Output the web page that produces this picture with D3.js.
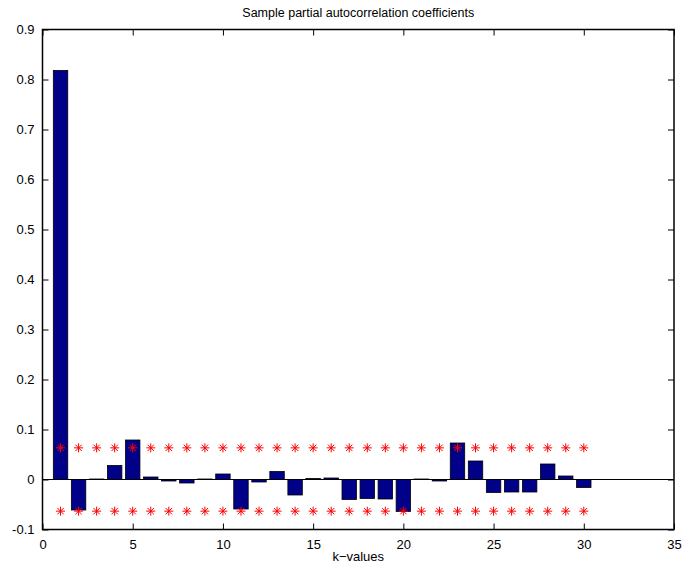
<!DOCTYPE html>
<html>
<head>
<meta charset="utf-8">
<script src="https://cdn.jsdelivr.net/npm/d3@7"></script>
<style>
  html, body { margin: 0; padding: 0; background: #fff; }
  svg { display: block; }
  text { font-family: "Liberation Sans", Arial, Helvetica, sans-serif; fill: #000; }
</style>
</head>
<body>
<svg id="chart" width="684" height="568"></svg>
<script>
// Lags and sample partial autocorrelation values
const lags = d3.range(1, 31);
const pacf = [
  0.818, -0.061, 0.001, 0.028, 0.079, 0.005, -0.003, -0.007, 0.001, 0.011,
  -0.059, -0.005, 0.016, -0.031, 0.002, 0.003, -0.040, -0.038, -0.039, -0.064,
  0.001, -0.003, 0.073, 0.037, -0.026, -0.025, -0.025, 0.031, 0.007, -0.016
];
// Approximate 95% confidence bounds (±2/sqrt(N))
const bound = 0.0633;
const xTicks = [0, 5, 10, 15, 20, 25, 30, 35];
const yTicks = [-0.1, 0, 0.1, 0.2, 0.3, 0.4, 0.5, 0.6, 0.7, 0.8, 0.9];
const titleText = "Sample partial autocorrelation coefficients";
const xLabelText = "k\u2212values";

const svg = d3.select("#chart");
const plotL = 42.5, plotR = 674, plotT = 29.5, plotB = 529.5;

const x = d3.scaleLinear().domain([0, 35]).range([plotL, plotR]);
const y = d3.scaleLinear().domain([-0.1, 0.9]).range([plotB, plotT]);

// Bars
const barW = 0.8;
svg.append("g").selectAll("rect")
  .data(lags)
  .join("rect")
  .attr("x", (d) => x(d - barW / 2))
  .attr("width", (d) => x(d + barW / 2) - x(d - barW / 2))
  .attr("y", (d, i) => y(Math.max(0, pacf[i])))
  .attr("height", (d, i) => Math.abs(y(pacf[i]) - y(0)))
  .attr("fill", "#000088")
  .attr("stroke", "#000")
  .attr("stroke-width", 0.8);

// Zero line
svg.append("line")
  .attr("x1", plotL).attr("x2", plotR)
  .attr("y1", y(0)).attr("y2", y(0))
  .attr("stroke", "#000").attr("stroke-width", 1);

// Confidence bound markers (asterisks)
const star = (s) => {
  const r = s / 2, q = r * 0.707;
  return `M${-r},0L${r},0M0,${-r}L0,${r}M${-q},${-q}L${q},${q}M${-q},${q}L${q},${-q}`;
};
const markers = [];
lags.forEach((k) => { markers.push([k, bound]); markers.push([k, -bound]); });
svg.append("g").selectAll("path")
  .data(markers)
  .join("path")
  .attr("transform", (d) => `translate(${x(d[0])},${y(d[1])})`)
  .attr("d", star(9))
  .attr("stroke", "#ff0000")
  .attr("stroke-width", 1)
  .attr("fill", "none");

// Axes box with inward ticks
const tickLen = 6;
const axisG = svg.append("g");
axisG.append("rect")
  .attr("x", plotL).attr("y", plotT)
  .attr("width", plotR - plotL).attr("height", plotB - plotT)
  .attr("fill", "none").attr("stroke", "#000").attr("stroke-width", 1.5);

const xAxisB = d3.axisBottom(x).tickValues(xTicks).tickSizeInner(-tickLen).tickSizeOuter(0).tickPadding(10).tickFormat(d3.format("d"));
const xAxisT = d3.axisTop(x).tickValues(xTicks).tickSizeInner(-tickLen).tickSizeOuter(0).tickFormat("");
const yAxisL = d3.axisLeft(y).tickValues(yTicks).tickSizeInner(-tickLen).tickSizeOuter(0).tickPadding(8)
  .tickFormat((d) => Math.abs(d) < 1e-9 ? "0" : d3.format(".1f")(d).replace("\u2212", "-"));
const yAxisR = d3.axisRight(y).tickValues(yTicks).tickSizeInner(-tickLen).tickSizeOuter(0).tickFormat("");

function styleAxis(g) {
  g.select(".domain").remove();
  g.selectAll(".tick line").attr("stroke", "#000").attr("stroke-width", 1);
  g.selectAll(".tick text").attr("font-size", 13).attr("font-family", "Liberation Sans, Arial, sans-serif").attr("fill", "#000");
}

axisG.append("g").attr("transform", `translate(0,${plotB})`).call(xAxisB).call(styleAxis);
axisG.append("g").attr("transform", `translate(0,${plotT})`).call(xAxisT).call(styleAxis);
axisG.append("g").attr("transform", `translate(${plotL},0)`).call(yAxisL).call(styleAxis);
axisG.append("g").attr("transform", `translate(${plotR},0)`).call(yAxisR).call(styleAxis);

// Title and axis label
svg.append("text")
  .attr("x", (plotL + plotR) / 2).attr("y", 17)
  .attr("text-anchor", "middle").attr("font-size", 12.5)
  .text(titleText);
svg.append("text")
  .attr("x", (plotL + plotR) / 2).attr("y", 561)
  .attr("text-anchor", "middle").attr("font-size", 13)
  .text(xLabelText);
</script>
</body>
</html>
